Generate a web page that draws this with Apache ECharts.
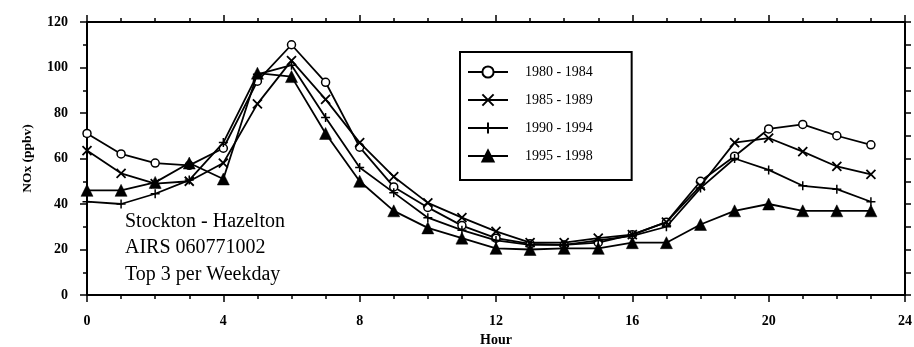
<!DOCTYPE html>
<html><head><meta charset="utf-8">
<script src="https://cdn.jsdelivr.net/npm/echarts@6/dist/echarts.min.js"></script>
<style>html,body{margin:0;padding:0;background:#fff}#c{width:914px;height:347px}</style>
</head><body><div id="c"></div>
<script>
const hours = [0,1,2,3,4,5,6,7,8,9,10,11,12,13,14,15,16,17,18,19,20,21,22,23];
const seriesNames = ['1980 - 1984','1985 - 1989','1990 - 1994','1995 - 1998'];
const s1980 = [71, 62, 58, 57, 64.5, 94, 110, 93.5, 65, 47.5, 38.5, 30.5, 25, 22.5, 22, 23, 26.5, 32, 50, 61, 73, 75, 70, 66];
const s1985 = [63.5, 53.5, 49, 50, 58, 84, 103, 86, 67, 52, 40.5, 34, 28, 23, 23, 25, 26.5, 32, 48, 67, 69, 63, 56.5, 53];
const s1990 = [41, 40, 44.5, 50.5, 67, 97, 101, 78, 56, 45, 34, 28.5, 24, 22, 22, 24, 26, 30, 47, 60, 55, 48, 46.5, 41];
const s1995 = [46, 46, 49.5, 58, 51, 97.5, 96, 71, 50, 37, 29.5, 25, 20.5, 20, 20.5, 20.5, 23, 23, 31, 37, 40, 37, 37, 37];
const xTicks = [0, 4, 8, 12, 16, 20, 24];
const yTicks = [0, 20, 40, 60, 80, 100, 120];
const annotation = ['Stockton - Hazelton', 'AIRS 060771002', 'Top 3 per Weekday'];
const X_MIN = 0, X_MAX = 24, Y_MIN = 0, Y_MAX = 120;

const FONT = 'Liberation Serif';
const pair = arr => arr.map((v, i) => [hours[i], v]);
const symbols = [
  {symbol: 'circle', size: 8, item: {color: '#fff', borderColor: '#000', borderWidth: 1.5}},
  {symbol: 'path://M0,0L10,10M10,0L0,10', size: 9, item: {color: '#000', borderColor: '#000', borderWidth: 1.8}},
  {symbol: 'path://M5,0L5,10M0,5L10,5', size: 9, item: {color: '#000', borderColor: '#000', borderWidth: 1.5}},
  {symbol: 'triangle', size: 12, item: {color: '#000', borderColor: '#000', borderWidth: 0.5}}
];
const datas = [s1980, s1985, s1990, s1995];

const lineAx = () => ({show: true, onZero: false, lineStyle: {color: '#000', width: 2}});
const tick = len => ({show: true, length: len, lineStyle: {color: '#000', width: 1.5}});
// labels kept non-empty (minor ones transparent) so every tick is drawn
const label = (keep, showAny) => ({
  show: true, margin: showAny ? 19 : 2, inside: !showAny,
  color: showAny ? '#000' : 'rgba(0,0,0,0)', fontFamily: FONT, fontSize: 14, fontWeight: 'bold',
  formatter: v => (showAny && keep.includes(v)) ? String(v) : '{h|' + v + '}',
  rich: {h: {color: 'rgba(0,0,0,0)', fontFamily: FONT, fontSize: 14}}
});

function xAx(position, interval, len, extra) {
  return Object.assign({
    type: 'value', min: X_MIN, max: X_MAX, interval: interval, position: position, show: true, alignTicks: false,
    axisLine: lineAx(), splitLine: {show: false}, axisTick: tick(len), axisLabel: {show: false}
  }, extra || {});
}
function yAx(position, interval, len, extra) {
  return Object.assign({
    type: 'value', min: Y_MIN, max: Y_MAX, interval: interval, position: position, show: true, alignTicks: false,
    axisLine: lineAx(), splitLine: {show: false}, axisTick: tick(len), axisLabel: {show: false}
  }, extra || {});
}

const chart = echarts.init(document.getElementById('c'));
chart.setOption({
  animation: false,
  backgroundColor: '#fff',
  grid: {left: 87, right: 9, top: 22, bottom: 52, containLabel: false, outerBoundsMode: 'none'},
  xAxis: [
    xAx('bottom', 1, 4, {
      axisLabel: label(xTicks, true),
      name: 'Hour', nameLocation: 'middle', nameGap: 35,
      nameTextStyle: {color: '#000', fontFamily: FONT, fontSize: 14, fontWeight: 'bold'}
    }),
    xAx('bottom', 4, 7),
    xAx('top', 1, 4, {axisLabel: label(xTicks, false)}),
    xAx('top', 4, 7)
  ],
  yAxis: [
    yAx('left', 10, 4, {
      axisLabel: label(yTicks, true),
      name: 'NOx (ppbv)', nameLocation: 'middle', nameGap: 52, nameRotate: 90,
      nameTextStyle: {color: '#000', fontFamily: FONT, fontSize: 13.5, fontWeight: 'bold'}
    }),
    yAx('left', 20, 7),
    yAx('right', 10, 6, {axisLabel: label(yTicks, false)})
  ],
  legend: {
    orient: 'vertical', left: 460, top: 52,
    padding: [13, 39, 17, 7], itemGap: 14, itemWidth: 40, itemHeight: 14,
    borderColor: '#000', borderWidth: 2, backgroundColor: '#fff',
    textStyle: {color: '#000', fontFamily: FONT, fontSize: 14, padding: [0, 0, 0, 12]},
    data: seriesNames
  },
  graphic: [{
    type: 'text', left: 125, top: 208,
    style: {text: annotation.join('\n'), font: '20px "Liberation Serif"', fill: '#000', lineHeight: 26.5}
  }],
  series: datas.map((d, i) => ({
    type: 'line', name: seriesNames[i], data: pair(d),
    xAxisIndex: 0, yAxisIndex: 0,
    symbol: symbols[i].symbol, symbolSize: symbols[i].size,
    showAllSymbol: true,
    itemStyle: symbols[i].item,
    lineStyle: {color: '#000', width: 1.8},
    z: 2 + i
  })).concat([[1, 1], [2, 2], [3, 0]].map(([xi, yi]) => ({
    type: 'line', name: '_axis' + xi, xAxisIndex: xi, yAxisIndex: yi, silent: true,
    data: [[X_MIN, Y_MIN], [X_MAX, Y_MAX]], symbol: 'none',
    lineStyle: {opacity: 0, width: 0}, z: 0
  })))
});
</script></body></html>
